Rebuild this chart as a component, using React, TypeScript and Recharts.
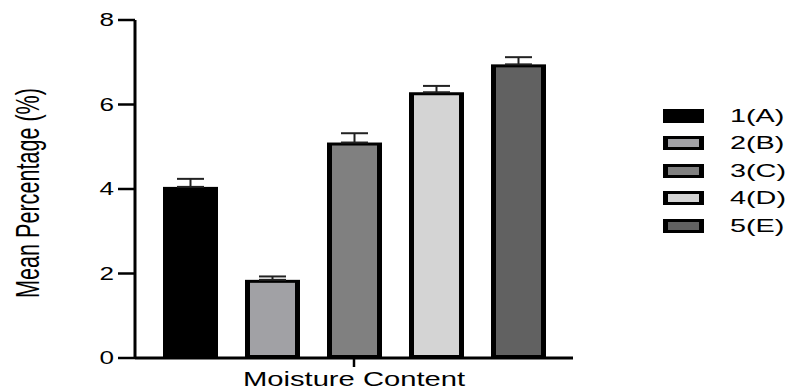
import React from 'react';
import { BarChart, Bar, XAxis, YAxis, ErrorBar, Legend } from 'recharts';

const categories = ['Moisture Content'];
const seriesNames = ['1(A)', '2(B)', '3(C)', '4(D)', '5(E)'];
const meanValues = [4.05, 1.85, 5.1, 6.29, 6.95];
const errorValues = [0.19, 0.08, 0.22, 0.15, 0.17];
const seriesColors = ['#000000', '#a1a1a5', '#808080', '#d4d4d4', '#616161'];
const yTicks = [0, 2, 4, 6, 8];

const data = categories.map((c) => {
  const row: any = { category: c };
  seriesNames.forEach((_, i) => {
    row[`v${i}`] = meanValues[i];
    row[`e${i}`] = [0, errorValues[i]];
  });
  return row;
});

const FONT = '"Liberation Sans", Arial, Helvetica, sans-serif';

const OutlinedBar = (props: any) => {
  const { x, y, width, height, fill } = props;
  const bx = 5;
  const by = 3;
  return (
    <g>
      <rect x={x} y={y} width={width} height={height} fill="#000" />
      <rect
        x={x + bx}
        y={y + by}
        width={Math.max(0, width - 2 * bx)}
        height={Math.max(0, height - 2 * by)}
        fill={fill}
      />
    </g>
  );
};

const YTick = (props: any) => {
  const { x, y, payload } = props;
  return (
    <text
      transform={`translate(${x},${y}) scale(1.45,1)`}
      textAnchor="end"
      dominantBaseline="central"
      fontSize={18}
      fontFamily={FONT}
      fill="#000"
    >
      {payload.value}
    </text>
  );
};

const XTick = (props: any) => {
  const { x, payload } = props;
  return (
    <text
      transform={`translate(${x},386) scale(1.39,1)`}
      textAnchor="middle"
      fontSize={21}
      fontFamily={FONT}
      fill="#000"
    >
      {payload.value}
    </text>
  );
};

const YLabel = () => (
  <text
    transform="translate(28,193) scale(1.5,1) rotate(-90)"
    textAnchor="middle"
    dominantBaseline="central"
    fontSize={21.6}
    fontFamily={FONT}
    fill="#000"
  >
    Mean Percentage (%)
  </text>
);

const renderLegend = (props: any) => {
  const { payload } = props;
  return (
    <div>
      {(payload || []).map((entry: any) => (
        <div
          key={entry.value}
          style={{ display: 'flex', alignItems: 'center', height: 27.5 }}
        >
          <div
            style={{
              width: 41,
              height: 14,
              boxSizing: 'border-box',
              background: entry.color,
              borderStyle: 'solid',
              borderColor: '#000',
              borderWidth: '3px 5.5px',
            }}
          />
          <span
            style={{
              marginLeft: 26,
              fontFamily: FONT,
              fontSize: 18,
              lineHeight: 1,
              display: 'inline-block',
              transform: 'scaleX(1.6)',
              transformOrigin: 'left center',
              color: '#000',
              whiteSpace: 'nowrap',
            }}
          >
            {entry.value}
          </span>
        </div>
      ))}
    </div>
  );
};

export default function App() {
  return (
    <div style={{ position: 'absolute', left: 0, top: 0, background: '#fff' }}>
      <BarChart
        width={788}
        height={389}
        data={data}
        margin={{ top: 20, right: 215, bottom: 0, left: 0 }}
        barSize={55}
        barGap={27}
      >
        <XAxis
          dataKey="category"
          height={31}
          axisLine={{ stroke: '#000', strokeWidth: 3 }}
          tickLine={{ stroke: '#000', strokeWidth: 2.5 }}
          tickSize={9}
          tick={<XTick />}
        />
        <YAxis
          width={135}
          domain={[0, 8]}
          ticks={yTicks}
          interval={0}
          axisLine={{ stroke: '#000', strokeWidth: 3 }}
          tickLine={{ stroke: '#000', strokeWidth: 2.5 }}
          tickSize={17}
          tickMargin={4}
          tick={<YTick />}
          label={<YLabel />}
        />
        <Legend
          layout="horizontal"
          verticalAlign="middle"
          align="center"
          content={renderLegend}
          wrapperStyle={{ left: 663, top: 102, width: 125 }}
        />
        {seriesNames.map((name, i) => (
          <Bar
            key={name}
            dataKey={`v${i}`}
            name={name}
            fill={seriesColors[i]}
            shape={<OutlinedBar />}
            isAnimationActive={false}
          >
            <ErrorBar
              dataKey={`e${i}`}
              width={13.5}
              stroke="#222"
              strokeWidth={2}
              direction="y"
              isAnimationActive={false}
            />
          </Bar>
        ))}
      </BarChart>
    </div>
  );
}
